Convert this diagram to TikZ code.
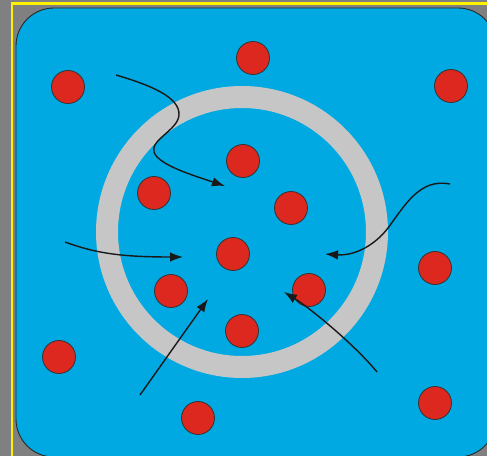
\documentclass[tikz,border=0pt]{standalone}
\usepackage{tikz}
\usetikzlibrary{arrows.meta}
\definecolor{pool}{RGB}{0,169,226}
\definecolor{drop}{RGB}{220,40,30}
\definecolor{wall}{RGB}{198,198,198}
\definecolor{back}{RGB}{128,128,128}
\tikzset{
  pane/.style={draw=black!85, line width=0.5pt, fill=pool, rounded corners=0.76cm},
  ring/.style={draw=wall, line width=0.44cm},
  dot/.style={circle, draw=black!80, line width=0.45pt, fill=drop, minimum size=0.66cm, inner sep=0pt},
  flow/.style={draw=black!90, line width=0.8pt, -{Latex[length=2.6mm, width=1.9mm]}}
}
\begin{document}
\begin{tikzpicture}[x=0.02cm, y=-0.02cm]
\useasboundingbox (0,0) rectangle (487,456);
\fill[back] (0,0) rectangle (487,456);
\draw[yellow, line width=1.5pt] (12,456) -- (12,3.5) -- (487,3.5);
\path[pane] (16,8) rectangle (496,457);
\draw[ring] (242,232) circle (135);

\foreach \p [count=\i] in {(253,58),(68,87),(451,86),(243,161),(154,193),(291,208),(233,254),
  (435,268),(171,291),(309,290),(242,331),(59,357),(198,418),(435,403)}
  \node[dot] (p\i) at \p {};

% free ends of the arrows
\coordinate (a0) at (116,75);  \coordinate (a1) at (225,186);
\coordinate (b0) at (450,184); \coordinate (b1) at (325,254);
\coordinate (c0) at (65,242);  \coordinate (c1) at (183,257);
\coordinate (d0) at (140,395); \coordinate (d1) at (208,299);
\coordinate (e0) at (377,372); \coordinate (e1) at (284,292);

\draw[flow] (a0) .. controls (150,85) and (180,97) .. (179,115)
  .. controls (178,130) and (150,140) .. (154,152)
  .. controls (158,165) and (195,176) .. (a1);
\draw[flow] (b0) .. controls (420,178) and (405,205) .. (388,228)
  .. controls (375,245) and (355,256) .. (b1);
\draw[flow] (c0) .. controls (95,253) and (120,257) .. (c1);
\draw[flow] (d0) -- (d1);
\draw[flow] (e0) .. controls (355,345) and (310,308) .. (e1);
\end{tikzpicture}
\end{document}
